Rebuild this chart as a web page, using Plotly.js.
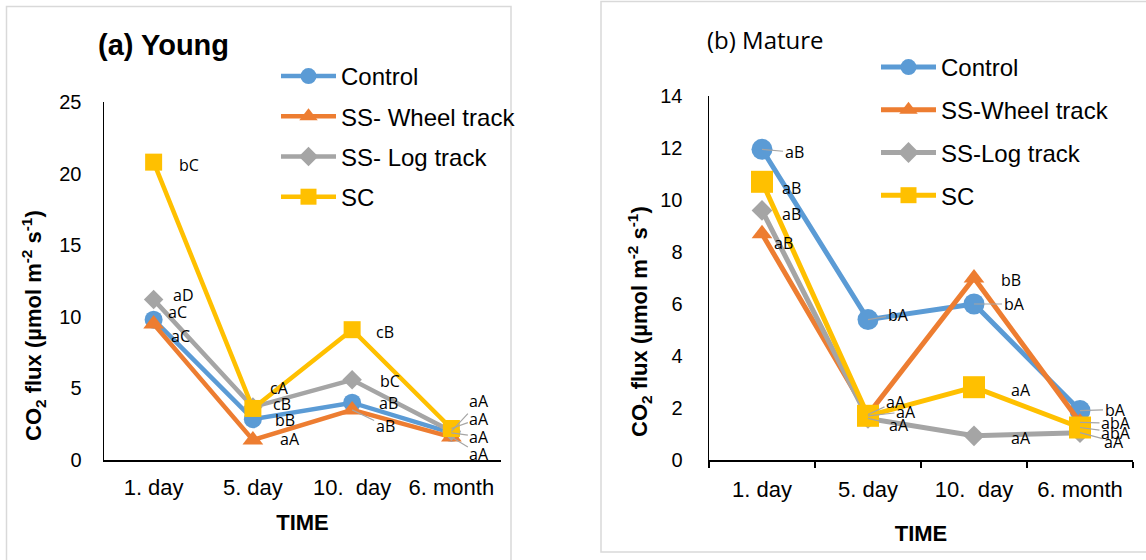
<!DOCTYPE html>
<html><head><meta charset="utf-8">
<script src="https://cdn.plot.ly/plotly-3.0.1.min.js"></script>
<style>html,body{margin:0;padding:0;background:#fff}#chart{width:1146px;height:560px}</style>
</head><body><div id="chart"></div>
<script>
// ---------- DATA ----------
const categories = ['1. day', '5. day', '10.\u00a0 day', '6. month'];
const seriesNames = ['Control', 'SS- Wheel track', 'SS- Log track', 'SC'];
const seriesNamesMature = ['Control', 'SS-Wheel track', 'SS-Log track', 'SC'];

const youngControl = [9.8, 2.85, 4.0, 1.9];
const youngWheel   = [9.5, 1.4, 3.5, 1.6];
const youngLog     = [11.2, 3.7, 5.6, 2.0];
const youngSC      = [20.8, 3.6, 9.1, 2.2];

const matureControl = [11.95, 5.4, 6.0, 1.9];
const matureWheel   = [8.7, 1.75, 7.0, 1.45];
const matureLog     = [9.6, 1.6, 0.93, 1.05];
const matureSC      = [10.7, 1.7, 2.8, 1.25];

const youngControlLbl = ['aC', 'bB', 'aB', 'aA'];
const youngWheelLbl   = ['aC', 'aA', 'aB', 'aA'];
const youngLogLbl     = ['aD', 'cB', 'bC', 'aA'];
const youngSCLbl      = ['bC', 'cA', 'cB', 'aA'];

const matureControlLbl = ['aB', 'bA', 'bA', 'bA'];
const matureWheelLbl   = ['aB', 'aA', 'bB', 'abA'];
const matureLogLbl     = ['aB', 'aA', 'aA', 'aA'];
const matureSCLbl      = ['aB', 'aA', 'aA', 'abA'];

// ---------- STYLE ----------
const colors = ['#5B9BD5', '#ED7D31', '#A5A5A5', '#FFC000'];
const symbols = ['circle', 'triangle-up', 'diamond', 'square'];
const youngSizes = [18, 18, 15, 17];
const matureSizes = [21, 18, 16, 22];

// label offsets [dx, dy(screen, down +), leader]
const youngOff = [
  [[24,-8,0],[32,1,0],[36,0,0],[28,4,1]],
  [[27,12,0],[37,-1,0],[33,16,1],[28,17,1]],
  [[30,-5,0],[29,-3,0],[38,1,0],[28,-30,1]],
  [[35,3,0],[27,-20,0],[33,2,0],[28,-10,1]]
];
const matureOff = [
  [[32,3,1],[30,-5,1],[40,0,1],[35,-1,1]],
  [[21,9,0],[28,-13,1],[37,2,0],[36,1,1]],
  [[29,4,0],[31,7,1],[47,2,0],[34,9,1]],
  [[29,6,0],[38,-4,1],[47,3,0],[36,5,1]]
];

const young = [youngControl, youngWheel, youngLog, youngSC];
const youngL = [youngControlLbl, youngWheelLbl, youngLogLbl, youngSCLbl];
const mature = [matureControl, matureWheel, matureLog, matureSC];
const matureL = [matureControlLbl, matureWheelLbl, matureLogLbl, matureSCLbl];

const traces = [];
young.forEach((vals, i) => traces.push({
  type: 'scatter', mode: 'lines+markers', x: categories, y: vals, name: seriesNames[i],
  xaxis: 'x', yaxis: 'y', legend: 'legend', legendgroup: 'y' + i,
  line: {color: colors[i], width: 4.5},
  marker: {symbol: symbols[i], size: youngSizes[i], color: colors[i]}
}));
mature.forEach((vals, i) => traces.push({
  type: 'scatter', mode: 'lines+markers', x: categories, y: vals, name: seriesNamesMature[i],
  xaxis: 'x2', yaxis: 'y2', legend: 'legend2', legendgroup: 'm' + i,
  line: {color: colors[i], width: 5},
  marker: {symbol: symbols[i], size: matureSizes[i], color: colors[i]}
}));

const lblFont = {family: 'Open Sans, Noto Sans, sans-serif', size: 16, color: '#000'};
const annotations = [];
function addLabels(data, labels, offs, xa, ya) {
  data.forEach((vals, i) => vals.forEach((v, j) => {
    const [dx, dy, lead] = offs[i][j];
    if (lead) {
      annotations.push({xref: xa, yref: ya, x: categories[j], y: v, text: labels[i][j],
        showarrow: true, arrowhead: 0, arrowwidth: 1.2, arrowcolor: '#A5A5A5',
        ax: dx, ay: dy, font: lblFont});
    } else {
      annotations.push({xref: xa, yref: ya, x: categories[j], y: v, text: labels[i][j],
        showarrow: false, xshift: dx, yshift: -dy, font: lblFont});
    }
  }));
}
addLabels(young, youngL, youngOff, 'x', 'y');
addLabels(mature, matureL, matureOff, 'x2', 'y2');

function px(x) { return x / 1146; }
function py(y) { return 1 - y / 560; }

annotations.push({xref: 'paper', yref: 'paper', x: px(96), y: py(45), xanchor: 'left', yanchor: 'middle',
  text: '<b>(a) Young</b>', showarrow: false, font: {family: 'Liberation Sans, Arial', size: 29, color: '#000'}});
annotations.push({xref: 'paper', yref: 'paper', x: px(705), y: py(40), xanchor: 'left', yanchor: 'middle',
  text: '(b) Mature', showarrow: false, font: {family: 'Open Sans, sans-serif', size: 24, color: '#000'}});

const yTitle = '<b>CO<sub>2</sub> flux (µmol m<sup>-2</sup> s<sup>-1</sup>)</b>';
const yTitleFont = {family: 'Liberation Sans, Arial', size: 22, color: '#000'};
annotations.push({xref: 'paper', yref: 'paper', x: px(33), y: py(326), xanchor: 'center', yanchor: 'middle',
  text: yTitle, textangle: -90, showarrow: false, font: yTitleFont});
annotations.push({xref: 'paper', yref: 'paper', x: px(639), y: py(322), xanchor: 'center', yanchor: 'middle',
  text: yTitle, textangle: -90, showarrow: false, font: yTitleFont});

const xTickFont = {family: 'Liberation Sans, Arial', size: 22, color: '#000'};
const yTickFont = {family: 'Liberation Sans, Arial', size: 20, color: '#000'};
const titleFont = {family: 'Liberation Sans, Arial', size: 22, color: '#000'};

const layout = {
  width: 1146, height: 560, margin: {l: 0, r: 0, t: 0, b: 0},
  paper_bgcolor: '#fff', plot_bgcolor: 'rgba(0,0,0,0)', showlegend: true,
  xaxis: {domain: [px(104), px(501)], anchor: 'y', type: 'category', range: [-0.5, 3.5],
    showline: true, linecolor: '#000', linewidth: 1.5, showgrid: false, zeroline: false,
    ticks: '', tickfont: xTickFont, ticklabelstandoff: 7,
    title: {text: '<b>TIME</b>', font: titleFont, standoff: 15}},
  yaxis: {domain: [py(460), py(102)], anchor: 'x', range: [0, 25], dtick: 5,
    showline: true, linecolor: '#000', linewidth: 1.5, showgrid: false, zeroline: false,
    ticks: '', tickfont: yTickFont, ticklabelstandoff: 17},
  xaxis2: {domain: [px(709), px(1133)], anchor: 'y2', type: 'category', range: [-0.5, 3.5],
    showline: true, linecolor: '#000', linewidth: 1.5, showgrid: false, zeroline: false,
    ticks: 'outside', tickson: 'boundaries', ticklen: 6, tickwidth: 1.5, tickcolor: '#000',
    tickfont: xTickFont, ticklabelstandoff: 9,
    title: {text: '<b>TIME</b>', font: titleFont, standoff: 24}},
  yaxis2: {domain: [py(460), py(96)], anchor: 'x2', range: [0, 14], dtick: 2,
    showline: true, linecolor: '#000', linewidth: 1.5, showgrid: false, zeroline: false,
    ticks: '', tickfont: yTickFont, ticklabelstandoff: 21},
  legend: {x: px(276), y: py(54), xanchor: 'left', yanchor: 'top', bgcolor: 'rgba(0,0,0,0)',
    font: {family: 'Liberation Sans, Arial', size: 24, color: '#000'}, tracegroupgap: 6, itemwidth: 55},
  legend2: {x: px(876), y: py(45), xanchor: 'left', yanchor: 'top', bgcolor: 'rgba(0,0,0,0)',
    font: {family: 'Liberation Sans, Arial', size: 24, color: '#000'}, tracegroupgap: 8.5, itemwidth: 55},
  annotations: annotations,
  shapes: [
    {type: 'rect', xref: 'paper', yref: 'paper', x0: px(6.5), x1: px(511), y0: py(6.5), y1: py(570),
      line: {color: '#D9D9D9', width: 1.5}},
    {type: 'rect', xref: 'paper', yref: 'paper', x0: px(601), x1: px(1150), y0: py(1.5), y1: py(552),
      line: {color: '#D9D9D9', width: 1.5}}
  ]
};

Plotly.newPlot('chart', traces, layout, {displayModeBar: false, staticPlot: true});
</script></body></html>
